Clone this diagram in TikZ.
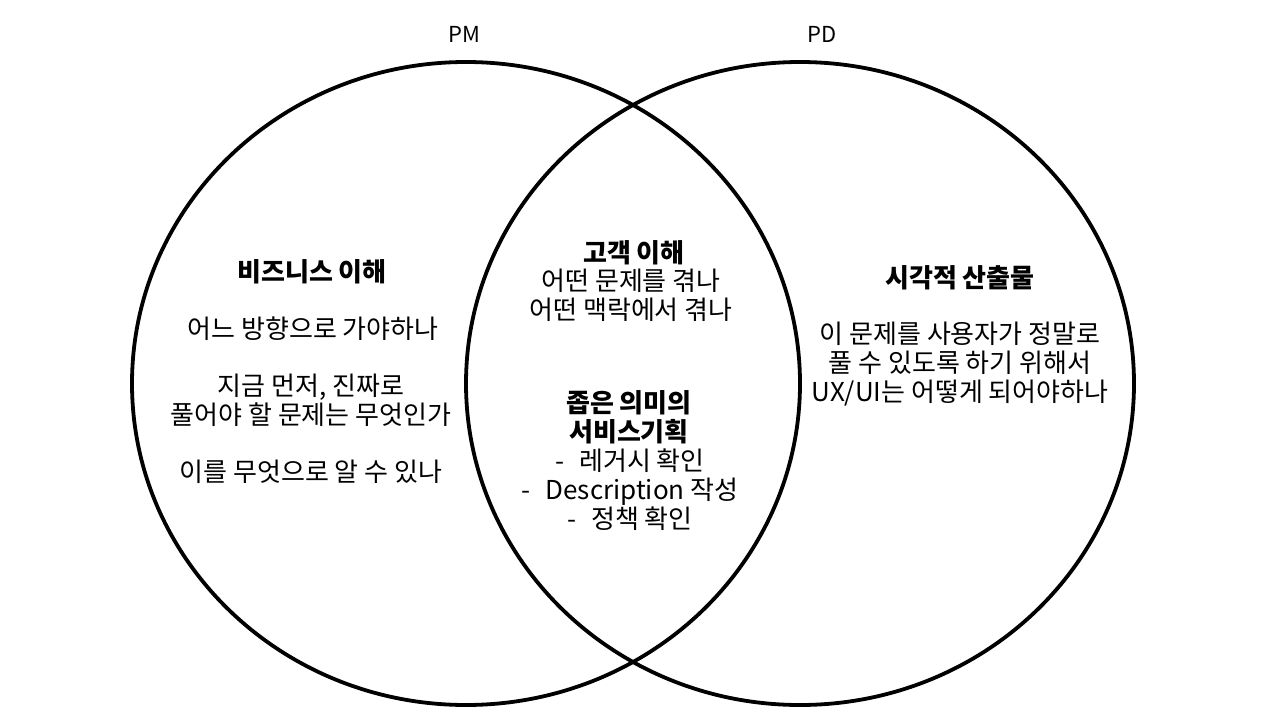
\documentclass[tikz,border=0pt]{standalone}
\usepackage{fontspec}
\setmainfont{Noto Sans CJK KR}
\usetikzlibrary{shapes.geometric}
\begin{document}
\begin{tikzpicture}[x=1pt,y=-1pt,
  setring/.style={draw=black, line width=3.8pt, ellipse, minimum width=668pt, minimum height=643pt, inner sep=0pt},
  setname/.style={font=\fontsize{22}{26}\selectfont, text=black},
  body/.style={font=\fontsize{26}{29}\selectfont, align=center, text=black, inner sep=0pt},
  head/.style={font=\fontsize{26}{29}\selectfont\bfseries, align=center, text=black, inner sep=0pt}]
\useasboundingbox[fill=white] (0,0) rectangle (1280,720);
\node[setring] (pm) at (466,383.5) {};
\node[setring] (pd) at (800,383.5) {};
\node[setname] (pmlabel) at (464,34) {PM};
\node[setname] (pdlabel) at (822,34) {PD};
% left
\node[head] (l1) at (312,272) {비즈니스 이해};
\node[body] (l2) at (313,329) {어느 방향으로 가야하나};
\node[body] (l3) at (311,400) {지금 먼저, 진짜로\\풀어야 할 문제는 무엇인가};
\node[body] (l4) at (311,472) {이를 무엇으로 알 수 있나};
% middle
\node[head] (m1) at (634,253) {고객 이해};
\node[body] (m2) at (631,295.5) {어떤 문제를 겪나\\어떤 맥락에서 겪나};
\node[head] (m3) at (629,417) {좁은 의미의\\서비스기획};
\node[body] (m4) at (630,490) {-\hspace{15pt}레거시 확인\\-\hspace{15pt}Description 작성\\-\hspace{15pt}정책 확인};
% right
\node[head] (r1) at (960,278) {시각적 산출물};
\node[body] (r2) at (960,364) {이 문제를 사용자가 정말로\\풀 수 있도록 하기 위해서\\UX/UI는 어떻게 되어야하나};
\end{tikzpicture}
\end{document}
